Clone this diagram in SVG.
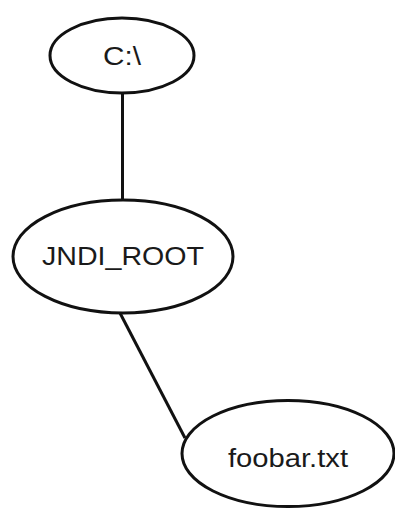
<svg xmlns="http://www.w3.org/2000/svg" width="395" height="509" viewBox="0 0 395 509">
<style>
.node ellipse{fill:#ffffff;stroke:#111;stroke-width:3}
.node text{font-family:"Liberation Sans",Arial,sans-serif;font-size:25px;fill:#1a1a1a;text-anchor:middle}
.edges line{stroke:#111;stroke-width:3}
</style>
<rect width="395" height="509" fill="#ffffff"/>
<g class="edges">
<line x1="122.5" y1="93" x2="122.5" y2="200"/>
<line x1="120" y1="313" x2="185" y2="438"/>
</g>
<g id="c_root" class="node">
<ellipse cx="122" cy="55.5" rx="72" ry="37.5"/>
<text x="122" y="65" textLength="38" lengthAdjust="spacingAndGlyphs">C:\</text>
</g>
<g id="jndi_root" class="node">
<ellipse cx="123" cy="256.5" rx="110" ry="56.5"/>
<text x="123" y="265" textLength="162" lengthAdjust="spacingAndGlyphs">JNDI_ROOT</text>
</g>
<g id="foobar" class="node">
<ellipse cx="288" cy="453.5" rx="106" ry="53"/>
<text x="288" y="467" textLength="120" lengthAdjust="spacingAndGlyphs">foobar.txt</text>
</g>
</svg>
